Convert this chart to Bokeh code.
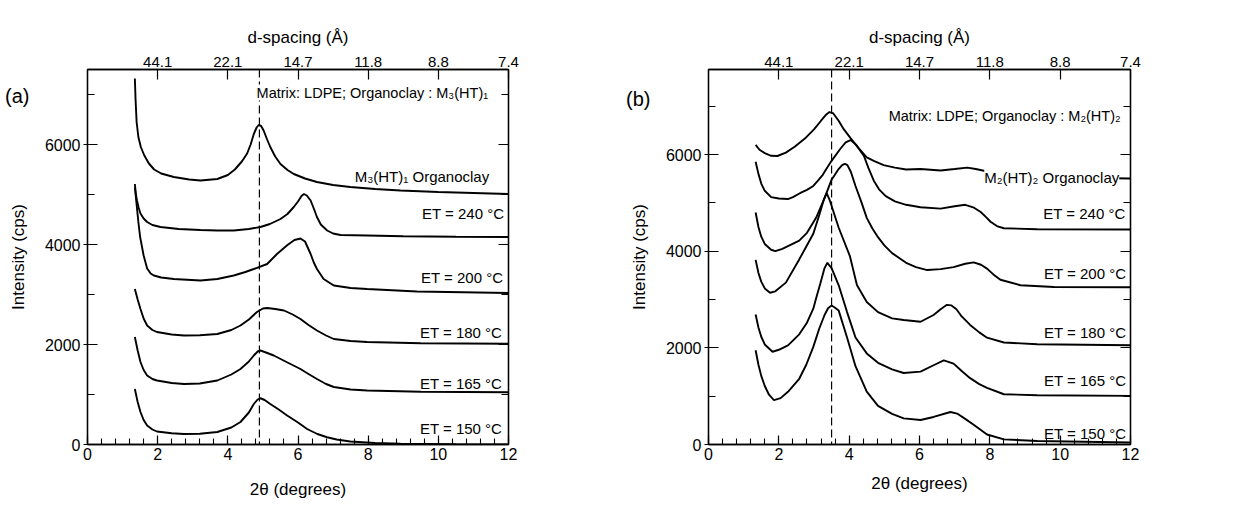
from bokeh.plotting import figure
from bokeh.models import (LinearAxis, Range1d, SingleIntervalTicker, FixedTicker,
                          Span, Label)
from bokeh.layouts import row
from bokeh.embed import file_html
from bokeh.resources import INLINE

# ---------------- data: panel (a)  Matrix LDPE, organoclay M3(HT)1 ----------------
A_ORG_X = [1.35, 1.37, 1.40, 1.45, 1.52, 1.62, 1.75, 1.90, 2.10, 2.46, 2.9, 3.22, 3.7, 4.0, 4.2, 4.4,
           4.55, 4.65, 4.74, 4.82, 4.88, 4.95, 5.02, 5.12, 5.21, 5.35, 5.5, 5.7, 5.88, 6.2, 6.54, 7.0,
           7.49, 8.2, 8.92, 10.0, 11.0, 12.0]
A_ORG_Y = [7320, 6900, 6450, 6150, 5950, 5780, 5620, 5500, 5420, 5350, 5300, 5280, 5310, 5390, 5500, 5660,
           5820, 6000, 6210, 6340, 6390, 6370, 6280, 6100, 5950, 5760, 5610, 5490, 5410, 5320, 5250, 5190,
           5150, 5110, 5080, 5050, 5030, 5010]

A_240_X = [1.35, 1.38, 1.41, 1.46, 1.51, 1.6, 1.7, 1.85, 2.08, 2.6, 3.22, 3.7, 4.17, 4.6, 4.93, 5.2, 5.5,
           5.7, 5.88, 6.0, 6.1, 6.17, 6.25, 6.36, 6.45, 6.54, 6.65, 6.83, 7.0, 7.21, 7.97, 9.0, 10.5, 12.0]
A_240_Y = [5210, 5000, 4880, 4730, 4620, 4520, 4450, 4390, 4350, 4310, 4290, 4280, 4280, 4310, 4350, 4410,
           4510, 4610, 4750, 4860, 4970, 5010, 4980, 4880, 4720, 4550, 4400, 4280, 4220, 4190, 4180, 4165,
           4155, 4150]

A_200_X = [1.35, 1.4, 1.45, 1.5, 1.6, 1.7, 1.8, 1.89, 2.1, 2.46, 3.22, 3.7, 4.17, 4.5, 4.74, 5.12, 5.4,
           5.7, 5.9, 6.07, 6.2, 6.36, 6.45, 6.54, 6.73, 7.02, 7.5, 7.97, 9.39, 12.0]
A_200_Y = [5150, 4800, 4450, 4150, 3780, 3520, 3420, 3380, 3340, 3310, 3280, 3310, 3380, 3450, 3510, 3610,
           3810, 3990, 4090, 4120, 4060, 3810, 3640, 3510, 3310, 3180, 3130, 3110, 3060, 3030]

A_180_X = [1.35, 1.43, 1.51, 1.6, 1.7, 1.85, 1.98, 2.4, 2.75, 3.2, 3.7, 4.1, 4.36, 4.6, 4.83, 5.0, 5.12,
           5.35, 5.6, 5.85, 6.07, 6.3, 6.54, 6.8, 7.02, 7.5, 7.97, 9.5, 12.0]
A_180_Y = [3110, 2900, 2710, 2520, 2380, 2290, 2250, 2200, 2180, 2185, 2210, 2290, 2380, 2500, 2650, 2720,
           2730, 2710, 2680, 2600, 2510, 2390, 2280, 2180, 2110, 2070, 2050, 2025, 2015]

A_165_X = [1.35, 1.43, 1.51, 1.6, 1.7, 1.85, 1.98, 2.4, 2.75, 3.2, 3.7, 4.1, 4.36, 4.6, 4.74, 4.85, 4.93,
           5.05, 5.31, 5.7, 6.07, 6.3, 6.54, 6.8, 7.02, 7.5, 7.97, 9.5, 12.0]
A_165_Y = [2150, 1880, 1650, 1490, 1380, 1310, 1280, 1230, 1210, 1220, 1280, 1400, 1510, 1660, 1780, 1860,
           1880, 1850, 1780, 1640, 1510, 1410, 1310, 1210, 1150, 1100, 1080, 1055, 1045]

A_150_X = [1.35, 1.43, 1.51, 1.6, 1.7, 1.85, 1.98, 2.4, 2.75, 3.2, 3.7, 4.1, 4.36, 4.6, 4.74, 4.85, 4.93,
           5.05, 5.21, 5.45, 5.69, 6.0, 6.26, 6.55, 6.83, 7.1, 7.49, 8.2, 8.92, 10.5, 12.0]
A_150_Y = [1110, 850, 650, 490, 380, 300, 260, 225, 210, 215, 250, 340, 450, 640, 810, 900, 925, 890, 810,
           700, 580, 440, 310, 210, 145, 100, 60, 30, 15, 5, 0]

# ---------------- data: panel (b)  Matrix LDPE, organoclay M2(HT)2 ----------------
B_ORG_X = [1.34, 1.45, 1.6, 1.78, 1.96, 2.2, 2.45, 2.74, 3.0, 3.2, 3.35, 3.44, 3.55, 3.7, 3.85, 4.04, 4.25,
           4.5, 4.7, 4.98, 5.3, 5.62, 6.03, 6.6, 7.0, 7.36, 7.6, 7.93, 8.4, 9.35, 10.5, 12.0]
B_ORG_Y = [6200, 6100, 6030, 5975, 5970, 6040, 6160, 6330, 6520, 6700, 6830, 6880, 6850, 6700, 6520, 6340,
           6150, 5940, 5870, 5780, 5730, 5690, 5700, 5670, 5700, 5730, 5700, 5650, 5575, 5540, 5520, 5505]

B_240_X = [1.34, 1.42, 1.5, 1.6, 1.78, 2.0, 2.26, 2.4, 2.6, 2.8, 2.98, 3.1, 3.25, 3.35, 3.5, 3.75, 3.9,
           4.04, 4.2, 4.42, 4.55, 4.7, 4.85, 5.04, 5.3, 5.62, 6.03, 6.6, 7.0, 7.3, 7.55, 7.74, 7.9, 8.02,
           8.2, 8.4, 9.35, 12.0]
B_240_Y = [5850, 5600, 5400, 5250, 5120, 5090, 5080, 5120, 5200, 5270, 5350, 5450, 5580, 5700, 5870, 6120,
           6250, 6300, 6200, 5970, 5720, 5460, 5280, 5140, 5030, 4960, 4910, 4880, 4930, 4960, 4900, 4810,
           4700, 4610, 4520, 4475, 4455, 4450]

B_200_X = [1.34, 1.42, 1.5, 1.6, 1.78, 1.9, 2.1, 2.58, 2.8, 3.06, 3.3, 3.5, 3.7, 3.8, 3.88, 3.95, 4.05,
           4.18, 4.34, 4.5, 4.66, 4.82, 5.0, 5.22, 5.62, 5.9, 6.22, 6.6, 6.97, 7.3, 7.54, 7.75, 7.92, 8.1,
           8.3, 8.87, 9.82, 12.0]
B_200_Y = [4800, 4500, 4300, 4150, 4030, 4000, 4050, 4220, 4380, 4690, 5100, 5480, 5700, 5780, 5810, 5780,
           5640, 5350, 5030, 4690, 4470, 4290, 4120, 3960, 3760, 3670, 3610, 3630, 3670, 3740, 3770, 3720,
           3640, 3520, 3410, 3295, 3260, 3255]

B_180_X = [1.34, 1.42, 1.5, 1.6, 1.75, 1.9, 2.2, 2.58, 2.98, 3.15, 3.28, 3.36, 3.45, 3.7, 4.02, 4.22, 4.5,
           4.82, 5.22, 5.55, 6.03, 6.4, 6.6, 6.78, 6.9, 7.05, 7.2, 7.44, 7.7, 7.92, 8.4, 9.35, 12.0]
B_180_Y = [3820, 3550, 3370, 3230, 3140, 3170, 3350, 3830, 4360, 4750, 5070, 5200, 5050, 4490, 3900, 3300,
           2950, 2740, 2610, 2575, 2540, 2680, 2800, 2890, 2880, 2800, 2650, 2475, 2320, 2210, 2110, 2075,
           2055]

B_165_X = [1.34, 1.42, 1.5, 1.6, 1.82, 2.0, 2.26, 2.58, 2.8, 2.98, 3.08, 3.18, 3.3, 3.38, 3.5, 3.7, 3.94,
           4.18, 4.5, 4.82, 5.22, 5.55, 6.03, 6.4, 6.69, 6.97, 7.2, 7.44, 7.7, 7.92, 8.4, 9.35, 12.0]
B_165_Y = [2690, 2420, 2230, 2070, 1920, 1960, 2050, 2280, 2520, 2810, 3080, 3330, 3650, 3760, 3650, 3300,
           2740, 2215, 1885, 1690, 1556, 1480, 1507, 1640, 1740, 1673, 1520, 1373, 1250, 1173, 1040, 1020,
           1007]

B_150_X = [1.34, 1.42, 1.5, 1.6, 1.72, 1.86, 2.05, 2.26, 2.58, 2.78, 2.98, 3.15, 3.3, 3.4, 3.5, 3.6, 3.7,
           3.94, 4.18, 4.5, 4.82, 5.22, 5.55, 6.03, 6.4, 6.88, 7.07, 7.3, 7.54, 7.92, 8.4, 9.35, 12.0]
B_150_Y = [1950, 1650, 1420, 1210, 1030, 920, 960, 1090, 1360, 1650, 2020, 2400, 2680, 2820, 2875, 2830,
           2775, 2215, 1620, 1094, 800, 633, 540, 507, 570, 673, 640, 530, 407, 207, 107, 73, 40]

# tick labels of the top (d-spacing) axis, at 2-theta = 2, 4, ..., 12
TOP_TICKS = [2, 4, 6, 8, 10, 12]
TOP_LABELS = ["44.1", "22.1", "14.7", "11.8", "8.8", "7.4"]

A_LABELS = ["M\u2083(HT)\u2081 Organoclay", "ET = 240 \u00b0C", "ET = 200 \u00b0C",
            "ET = 180 \u00b0C", "ET = 165 \u00b0C", "ET = 150 \u00b0C"]
B_LABELS = ["M\u2082(HT)\u2082 Organoclay", "ET = 240 \u00b0C", "ET = 200 \u00b0C",
            "ET = 180 \u00b0C", "ET = 165 \u00b0C", "ET = 150 \u00b0C"]
A_TITLE = "Matrix: LDPE; Organoclay : M\u2083(HT)\u2081"
B_TITLE = "Matrix: LDPE; Organoclay : M\u2082(HT)\u2082"
A_DASH = 4.9
B_DASH = 3.5
A_TAG_Y = 6980
B_TAG_Y = 7140

FONT = "Liberation Sans"
INK = "#000000"


def style_axis(ax, tick_in, tick_out, minor_in, label_size="16px"):
    ax.axis_line_color = INK
    ax.axis_line_width = 1.3
    ax.major_tick_line_color = INK
    ax.major_tick_line_width = 1.2
    ax.minor_tick_line_color = INK
    ax.minor_tick_line_width = 1.1
    ax.major_tick_in = tick_in
    ax.major_tick_out = tick_out
    ax.minor_tick_in = minor_in
    ax.minor_tick_out = 0
    ax.major_label_text_font = FONT
    ax.major_label_text_font_size = label_size
    ax.major_label_text_color = INK
    ax.axis_label_text_font = FONT
    ax.axis_label_text_font_size = "17px"
    ax.axis_label_text_font_style = "normal"
    ax.axis_label_text_color = INK


def make_panel(width, height, ymax, borders, curves, labels, label_pos, title, title_pos,
               dash, tag, tag_y, tag_standoff, ylab_standoff, xlab_standoff, masked=()):
    bl, br, bt, bb = borders
    p = figure(width=width, height=height, x_range=Range1d(0, 12), y_range=Range1d(0, ymax),
               output_backend="svg", toolbar_location=None,
               min_border_left=bl, min_border_right=br, min_border_top=bt, min_border_bottom=bb)
    p.xgrid.visible = False
    p.ygrid.visible = False
    p.outline_line_color = INK
    p.outline_line_width = 1.3
    p.background_fill_color = "white"
    p.border_fill_color = "white"

    bottom = p.below[0]
    bottom.ticker = SingleIntervalTicker(interval=2, num_minor_ticks=5)
    bottom.axis_label = "2\u03b8 (degrees)"
    style_axis(bottom, 9, 0, 6)
    bottom.major_label_standoff = 3
    bottom.axis_label_standoff = xlab_standoff

    left = p.left[0]
    left.ticker = SingleIntervalTicker(interval=2000, num_minor_ticks=2)
    left.axis_label = "Intensity (cps)"
    style_axis(left, 10, 4, 7)
    left.major_label_standoff = 3
    left.axis_label_standoff = ylab_standoff

    # panel tag "(a)" / "(b)" drawn as the single label of an outer, line-less left axis
    tag_axis = LinearAxis(ticker=FixedTicker(ticks=[tag_y]),
                          major_label_overrides={tag_y: tag})
    style_axis(tag_axis, 0, 0, 0, label_size="20px")
    tag_axis.axis_line_color = None
    tag_axis.major_tick_line_color = None
    tag_axis.minor_tick_line_color = None
    tag_axis.major_label_standoff = tag_standoff
    p.add_layout(tag_axis, "left")

    top = LinearAxis(ticker=FixedTicker(ticks=TOP_TICKS),
                     major_label_overrides={t: s for t, s in zip(TOP_TICKS, TOP_LABELS)},
                     axis_label="d-spacing (\u00c5)")
    style_axis(top, 10, 0, 0, label_size="15px")
    top.major_label_standoff = 3
    top.axis_label_standoff = 7
    p.add_layout(top, "above")

    right = LinearAxis(ticker=SingleIntervalTicker(interval=2000, num_minor_ticks=2))
    style_axis(right, 10, 0, 7)
    right.major_label_text_color = None
    right.major_label_standoff = 0
    p.add_layout(right, "right")

    for xs, ys in curves:
        p.line(xs, ys, line_color=INK, line_width=1.9)

    p.add_layout(Span(location=dash, dimension="height", line_color=INK,
                      line_width=1.2, line_dash="8 4"))

    for i, (txt, (lx, ly)) in enumerate(zip(labels, label_pos)):
        kw = {}
        if i in masked:
            kw = dict(background_fill_color="white")
        p.add_layout(Label(x=lx, y=ly, text=txt, text_align="right", text_baseline="middle",
                           text_font=FONT, text_font_size="15px", text_color=INK, **kw))
    p.add_layout(Label(x=title_pos[0], y=title_pos[1], text=title, text_align="right",
                       text_baseline="middle", text_font=FONT, text_font_size="14.5px",
                       text_color=INK, background_fill_color="white"))
    return p


pa = make_panel(
    620, 510, 7500, (87, 112, 69, 66),
    [(A_ORG_X, A_ORG_Y), (A_240_X, A_240_Y), (A_200_X, A_200_Y),
     (A_180_X, A_180_Y), (A_165_X, A_165_Y), (A_150_X, A_150_Y)],
    A_LABELS,
    [(11.45, 5360), (11.88, 4620), (11.85, 3340), (11.82, 2240), (11.82, 1230), (11.82, 330)],
    A_TITLE, (11.42, 7040), A_DASH, "(a)", A_TAG_Y, -24, 14, 17)

pb = make_panel(
    622, 510, 7760, (88, 112, 69, 53),
    [(B_ORG_X, B_ORG_Y), (B_240_X, B_240_Y), (B_200_X, B_200_Y),
     (B_180_X, B_180_Y), (B_165_X, B_165_Y), (B_150_X, B_150_Y)],
    B_LABELS,
    [(11.68, 5520), (11.86, 4770), (11.88, 3540), (11.88, 2320), (11.88, 1320), (11.88, 227)],
    B_TITLE, (11.72, 6800), B_DASH, "(b)", B_TAG_Y, -24, 14, 11, masked=(0,))

layout = row(pa, pb)
open("out.html", "w").write(file_html(layout, INLINE))
